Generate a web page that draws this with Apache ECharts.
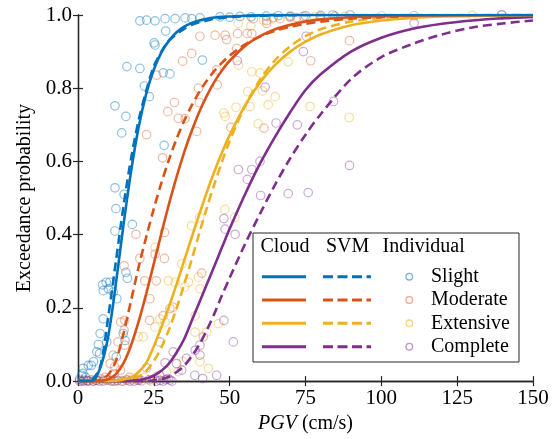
<!DOCTYPE html>
<html>
<head>
<meta charset="utf-8">
<script src="https://cdn.jsdelivr.net/npm/echarts@6/dist/echarts.min.js"></script>
<style>html,body{margin:0;padding:0;background:#fff;}#c{width:559px;height:439px;}</style>
</head>
<body>
<div id="c"></div>
<script>
// ---- data ----
const xTicks = [0, 25, 50, 75, 100, 125, 150];
const yTicks = [0, 0.2, 0.4, 0.6, 0.8, 1.0];
const pgvGrid = [0,2.5,5,7.5,10,12.5,15,17.5,20,22.5,25,27.5,30,32.5,35,37.5,40,42.5,45,47.5,50,55,60,65,70,75,80,90,100,110,120,130,140,150];

const cloudSlight = [0,0,0.002,0.04,0.124,0.267,0.427,0.573,0.694,0.785,0.851,0.898,0.930,0.953,0.968,0.978,0.985,0.990,0.993,0.995,0.996,0.998,0.999,0.9995,1,1,1,1,1,1,1,1,1,1];
const svmSlight = [0,0,0.006,0.045,0.177,0.327,0.478,0.608,0.713,0.793,0.86,0.90,0.93,0.948,0.962,0.973,0.980,0.985,0.990,0.992,0.994,0.997,0.998,0.999,0.9995,1,1,1,1,1,1,1,1,1];
const cloudModerate = [0,0,0,0.0005,0.005,0.019,0.049,0.098,0.163,0.239,0.321,0.404,0.484,0.558,0.625,0.684,0.736,0.780,0.818,0.849,0.875,0.915,0.942,0.961,0.973,0.982,0.988,0.994,0.997,0.998,0.999,0.9995,1,1];
const svmModerate = [0,0,0.001,0.004,0.018,0.055,0.13,0.22,0.312,0.394,0.471,0.542,0.605,0.662,0.711,0.753,0.790,0.821,0.848,0.870,0.889,0.919,0.941,0.957,0.968,0.976,0.982,0.990,0.994,0.9965,0.998,0.9988,0.9992,0.9995];
const cloudExtensive = [0,0,0,0,0,0.001,0.004,0.01,0.025,0.05,0.095,0.148,0.204,0.265,0.329,0.393,0.456,0.517,0.573,0.625,0.672,0.752,0.816,0.864,0.900,0.927,0.947,0.972,0.985,0.992,0.9957,0.9976,0.9987,0.9993];
const svmExtensive = [0,0,0,0,0,0,0.001,0.004,0.012,0.028,0.055,0.092,0.141,0.199,0.264,0.333,0.404,0.474,0.539,0.600,0.656,0.750,0.823,0.877,0.915,0.942,0.961,0.982,0.992,0.9963,0.9983,0.9993,0.9997,0.9999];
const cloudComplete = [0,0,0,0,0,0,0,0.001,0.003,0.007,0.015,0.028,0.048,0.078,0.115,0.165,0.215,0.265,0.315,0.366,0.416,0.509,0.594,0.668,0.735,0.795,0.838,0.900,0.938,0.962,0.976,0.985,0.991,0.995];
const svmComplete = [0,0,0,0,0,0,0,0,0,0,0.002,0.005,0.012,0.025,0.042,0.068,0.10,0.14,0.185,0.235,0.282,0.373,0.457,0.537,0.609,0.673,0.729,0.825,0.885,0.920,0.947,0.966,0.977,0.985];

const slightPts = [[20.4,0.984],[22.6,0.986],[25.4,0.984],[28.7,0.99],[32,0.99],[35.3,0.992],[37.5,0.99],[40.2,0.992],[46.8,0.995],[50,0.994],[53.4,0.996],[57.1,0.995],[62,0.997],[66,0.998],[70,0.997],[75,0.998],[80,0.999],[84,1.0],[89.7,1.0],
[12.2,0.752],[15.8,0.723],[14.4,0.678],[16.1,0.859],[20.4,0.854],[28.9,0.956],[25.1,0.924],[25.4,0.918],[28.1,0.842],[30.3,0.839],[41,0.877],[21.9,0.806],[23.5,0.777],[28.4,0.644],[12.2,0.528],[15.2,0.51],[12.5,0.471],
[12.2,0.41],[17.9,0.428],[8.1,0.263],[10,0.252],[11.6,0.243],[8.3,0.247],[12.8,0.225],[15.8,0.297],[16.3,0.281],[8.3,0.17],[7.3,0.13],[6.7,0.10],[6.2,0.08],[5.1,0.053],[3.4,0.043],[1.7,0.035],[1.2,0.016],[15.5,0.111],[14.9,0.13],[9.5,0.107],
[9.3,0.27],[10.5,0.27],[7.1,0.075],[12.6,0.066],[4.4,0.043],[1.6,0.021],[2.5,0.01],[0.5,0.005],[3,0.002]];
const moderatePts = [[40.2,0.942],[37.5,0.895],[34.5,0.874],[45.2,0.945],[48.5,0.945],[49,0.933],[55.8,0.949],[52.3,0.909],[45.7,0.85],[45.9,0.809],[39.7,0.8],[40,0.761],[31.8,0.761],[29.6,0.736],[33.1,0.718],[35.3,0.717],[50.4,0.693],[39.1,0.682],[22.6,0.673],[25.9,0.836],[27.9,0.61],[52.6,0.949],
[89.5,0.93],[76.7,0.875],[110.8,0.998],[139.7,1.0],[61.3,0.691],
[57.8,0.99],[62.2,0.985],[64.4,0.993],[66.6,0.99],[69.9,0.995],[72.1,0.993],[74.3,0.996],[79.8,0.995],[84.7,0.997],[57.3,0.949],[62.2,0.977],
[19.1,0.401],[20.4,0.335],[25.4,0.347],[28.5,0.335],[28.5,0.406],[15.2,0.315],[14.1,0.161],[15.2,0.139],[28.1,0.179],[30.3,0.198],[41.3,0.121],[40.8,0.295],[23.7,0.225],[11.6,0.071],[10.6,0.048],
[22,0.274],[25.8,0.274],[15.4,0.166],[23.6,0.166],[13.2,0.107],[15.4,0.098],[31.3,0.202],[12.1,0.039],
[6,0.003],[9,0.01],[12,0.02],[14,0.03],[17,0.01],[20,0.005],[3,0.0],[1,0],[4.5,0.004],[7.5,0.006],[10,0.003]];
const extensivePts = [[52.9,0.863],[57.3,0.845],[60.8,0.793],[56.7,0.75],[59.4,0.703],[48.5,0.723],[48.1,0.732],[52.1,0.748],[52.8,0.977],[56,0.791],[60,0.841],[69.3,0.872],[65,0.777],[62.7,0.755],[76.5,0.75],[89.4,0.72],
[48.4,0.469],[51.7,0.447],[37.4,0.424],[40.1,0.447],[25.4,0.365],[34.2,0.32],[29.8,0.274],[32,0.27],[36.4,0.27],[35.2,0.257],[40.2,0.252],[39.7,0.284],[38.6,0.178],[38.6,0.134],[42.4,0.134],[28.7,0.161],[27,0.17],[25.4,0.148],[21.5,0.121],[19.9,0.121],[46.3,0.157],[40.2,0.053],[43,0.035],[34.7,0.053],[29.2,0.026],[25.9,0.012],[33,0.026],
[57,0.97],[61.1,0.986],[64,0.99],[70,0.993],[78,0.995],[88,0.997],[100,0.998],[130,0.999],
[15,0.0],[18,0.005],[22,0.01],[24,0.0],[5,0],[8,0.003],[11,0.002],[13,0],[16.5,0.003],[19.5,0.002]];
const completePts = [[52.5,0.875],[61.7,0.803],[52.9,0.578],[57.3,0.578],[55.8,0.551],[60,0.6],[60.2,0.507],[48.1,0.444],[48.5,0.415],[51.8,0.401],[69.3,0.512],[75.9,0.515],
[75.2,0.942],[74.3,0.9],[84.2,0.764],[72.3,0.70],[65.3,0.705],[89.5,0.589],[110.8,0.978],[139.7,1.0],
[51.2,0.107],[48.1,0.166],[40.2,0.098],[38.6,0.084],[40.2,0.071],[35.8,0.062],[32.5,0.048],[34.2,0.03],[28.7,0.05],[31.4,0.08],[27,0.107],[22.6,0.036],[41.1,0.007],[45.7,0.016],[30.3,0.003],[25.9,0],[28.1,0],[17.1,0],[1.7,0],[5,0],[8.3,0],[38.5,0.016],[26.9,0.016],[29.7,0.007],[25.3,0.007],[12,0],[20,0.002],
[0.5,0],[2,0.003],[3.5,0],[6,0.002],[7,0],[9.5,0.003],[11,0],[13,0.002],[14.5,0],[16,0.003],[18.5,0],[21,0.001],[23.5,0.004],[27,0.002],[29,0.004],[31,0]];

// ---- styling ----
const colors = ['#0072BD', '#D95319', '#EDB120', '#7E2F8E'];
const ptColors = ['rgba(0,114,189,0.55)', 'rgba(217,83,25,0.5)', 'rgba(237,177,32,0.55)', 'rgba(126,47,142,0.5)'];
const stateNames = ['Slight', 'Moderate', 'Extensive', 'Complete'];
const cloudCurves = [cloudSlight, cloudModerate, cloudExtensive, cloudComplete];
const svmCurves = [svmSlight, svmModerate, svmExtensive, svmComplete];
const pointSets = [slightPts, moderatePts, extensivePts, completePts];
const FONT = '"Liberation Serif", "Times New Roman", serif';
const AX = '#262626';
const dash = [9, 5];

function pairs(ys) { return pgvGrid.map((x, i) => [x, ys[i]]); }

const series = [];
pointSets.forEach((pts, k) => {
  series.push({
    type: 'scatter', name: stateNames[k] + ' individual', data: pts,
    symbol: 'circle', symbolSize: 8.5,
    itemStyle: { color: 'rgba(0,0,0,0)', borderColor: ptColors[k], borderWidth: 1.2 },
    z: 2, silent: true
  });
});
for (let k = 3; k >= 0; k--) {
  series.push({
    type: 'line', name: stateNames[k] + ' SVM', data: pairs(svmCurves[k]),
    showSymbol: false, smooth: 0.3,
    lineStyle: { color: colors[k], width: 2.6, type: dash }, z: 3, silent: true
  });
  series.push({
    type: 'line', name: stateNames[k] + ' Cloud', data: pairs(cloudCurves[k]),
    showSymbol: false, smooth: 0.3,
    lineStyle: { color: colors[k], width: 2.6 }, z: 4, silent: true
  });
}

// ---- custom legend (layout only) ----
const L = { x: 253, y: 233, w: 266, h: 129, head: 247, rows: [276.7, 300, 323.3, 346.7] };
const gfx = [
  { type: 'rect', z: 100, shape: { x: L.x, y: L.y, width: L.w, height: L.h }, style: { fill: '#fff', stroke: AX, lineWidth: 1 } },
  { type: 'text', z: 101, x: 260.5, y: L.head, style: { text: 'Cloud', font: '20px ' + FONT, fill: '#000', verticalAlign: 'middle', align: 'left' } },
  { type: 'text', z: 101, x: 326, y: L.head, style: { text: 'SVM', font: '20px ' + FONT, fill: '#000', verticalAlign: 'middle', align: 'left' } },
  { type: 'text', z: 101, x: 382.5, y: L.head, style: { text: 'Individual', font: '20px ' + FONT, fill: '#000', verticalAlign: 'middle', align: 'left' } }
];
L.rows.forEach((yy, k) => {
  gfx.push({ type: 'line', z: 101, shape: { x1: 262, y1: yy, x2: 306, y2: yy }, style: { stroke: colors[k], lineWidth: 3 } });
  gfx.push({ type: 'line', z: 101, shape: { x1: 323, y1: yy, x2: 371, y2: yy }, style: { stroke: colors[k], lineWidth: 3, lineDash: [10, 4.5] } });
  gfx.push({ type: 'circle', z: 101, shape: { cx: 409.3, cy: yy, r: 3.3 }, style: { fill: 'none', stroke: ptColors[k], lineWidth: 1.3 } });
  gfx.push({ type: 'text', z: 101, x: 431, y: yy, style: { text: stateNames[k], font: '20px ' + FONT, fill: '#000', verticalAlign: 'middle', align: 'left' } });
});

const axLine = { show: true, lineStyle: { color: AX, width: 1.3 } };
const axTick = { show: true, inside: true, length: 5, lineStyle: { color: AX, width: 1.2 } };
const lbl = { fontFamily: FONT, fontSize: 21, color: '#000' };

const option = {
  animation: false,
  backgroundColor: '#fff',
  grid: { left: 78, right: 26, top: 15, bottom: 56 },
  xAxis: [
    { type: 'value', position: 'bottom', min: xTicks[0], max: xTicks[xTicks.length - 1], interval: 25,
      axisLine: axLine, axisTick: axTick, splitLine: { show: false },
      axisLabel: Object.assign({ margin: 7 }, lbl),
      name: '{i|PGV} (cm/s)', nameLocation: 'middle', nameGap: 19,
      nameTextStyle: { fontFamily: FONT, fontSize: 20, color: '#000', rich: { i: { fontFamily: FONT, fontSize: 20, fontStyle: 'italic', color: '#000' } } } },
    { type: 'value', position: 'top', min: xTicks[0], max: xTicks[xTicks.length - 1], interval: 25,
      axisLine: axLine, axisTick: axTick, splitLine: { show: false }, axisLabel: { show: false } }
  ],
  yAxis: [
    { type: 'value', position: 'left', min: yTicks[0], max: yTicks[yTicks.length - 1], interval: 0.2,
      axisLine: axLine, axisTick: axTick, splitLine: { show: false },
      axisLabel: Object.assign({ margin: 6, formatter: v => v.toFixed(1) }, lbl),
      name: 'Exceedance probability', nameLocation: 'middle', nameGap: 39,
      nameTextStyle: { fontFamily: FONT, fontSize: 20, color: '#000' } },
    { type: 'value', position: 'right', min: yTicks[0], max: yTicks[yTicks.length - 1], interval: 0.2,
      axisLine: axLine, axisTick: axTick, splitLine: { show: false }, axisLabel: { show: false } }
  ],
  series: series,
  graphic: gfx
};

const chart = echarts.init(document.getElementById('c'), null, { renderer: 'canvas' });
chart.setOption(option);
</script>
</body>
</html>
